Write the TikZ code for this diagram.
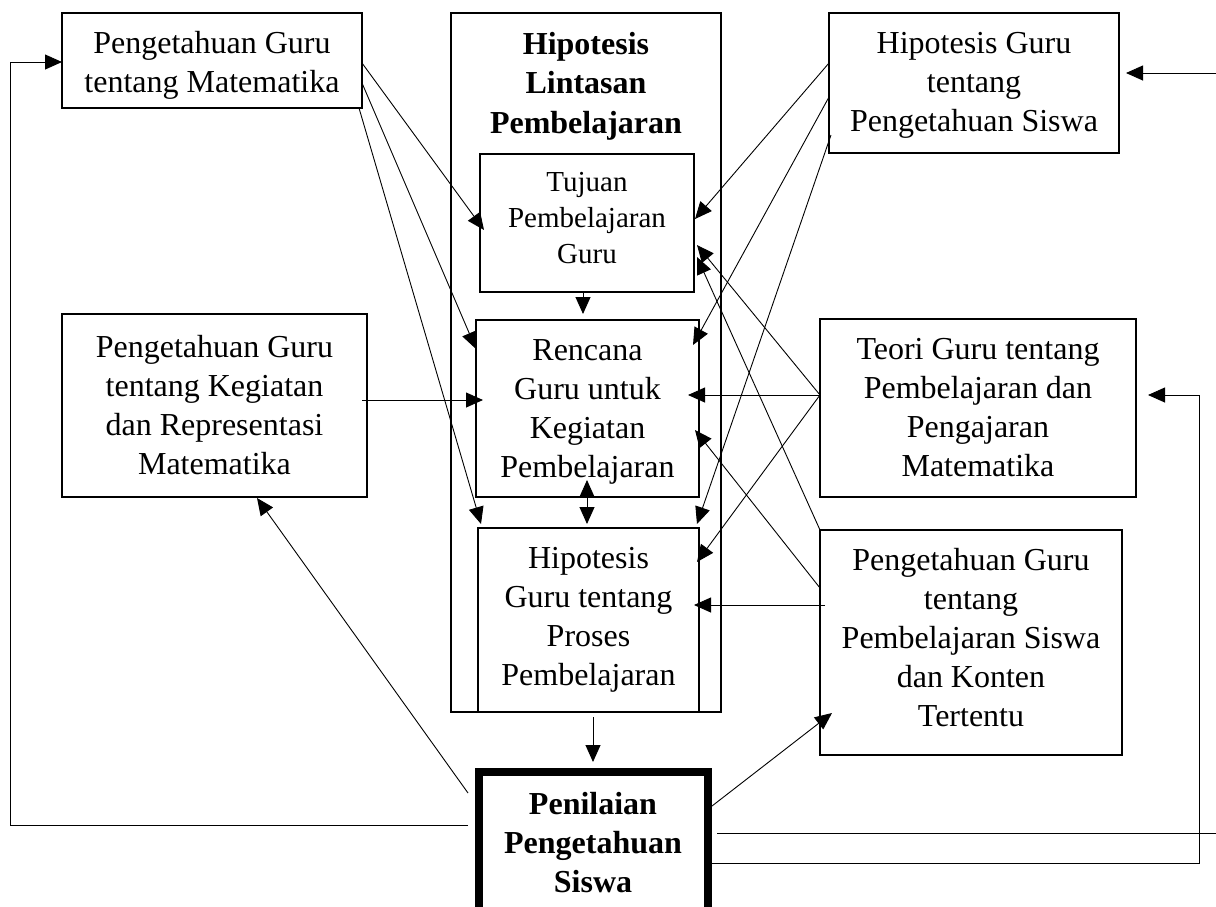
\documentclass[tikz,border=0pt]{standalone}
\usepackage{fontspec}
\setmainfont{Liberation Serif}
\usetikzlibrary{arrows.meta,calc}
% invisible struts that nudge the text block inside a frame
\newcommand{\tallstrut}[1]{\rule{0pt}{#1}}
\newcommand{\deepstrut}[1]{\rule[-#1]{0pt}{0pt}}
\begin{document}
\begin{tikzpicture}[x=1pt,y=-1pt,
  box/.style={draw,line width=1.1pt,inner sep=0pt,outer sep=0pt,align=center,
    font=\fontsize{32}{39}\selectfont},
  title/.style={inner sep=0pt,align=center,font=\fontsize{32}{39.5}\selectfont\bfseries},
  link/.style={line width=0.9pt,-{Triangle[length=17pt,width=15pt]}},
  both/.style={line width=0.9pt,{Triangle[length=17pt,width=15pt]}-{Triangle[length=17pt,width=15pt]}},
  plain/.style={line width=0.9pt}]
\useasboundingbox (0,0) rectangle (1216,906);
\clip (0,0) rectangle (1216,906);

% left column
\node[box,minimum width=300pt,minimum height=95pt] (pgm) at (212,60.5)
  {\tallstrut{32pt}Pengetahuan Guru\\tentang Matematika};
\node[box,minimum width=305pt,minimum height=183pt] (pgk) at (214.5,405.5)
  {Pengetahuan Guru\\tentang Kegiatan\\dan Representasi\\Matematika};

% hypothetical learning trajectory (middle column)
\node[box,minimum width=270pt,minimum height=699pt] (hlt) at (586,362.5) {};
\node[title] (hltT) at (586,86) {Hipotesis\\Lintasan\\Pembelajaran};
\node[box,minimum width=214pt,minimum height=138pt,
  font=\fontsize{29}{36}\selectfont] (tuj) at (587,223)
  {Tujuan\\Pembelajaran\\Guru\deepstrut{11pt}};
\node[box,minimum width=223pt,minimum height=177pt] (ren) at (587.5,408.5)
  {\tallstrut{28pt}Rencana\\Guru untuk\\Kegiatan\\Pembelajaran};
\node[box,minimum width=221pt,minimum height=184pt] (pro) at (588.5,620)
  {Hipotesis\\Guru tentang\\Proses\\Pembelajaran};

% right column
\node[box,minimum width=290pt,minimum height=140pt] (hgps) at (974,83)
  {\tallstrut{26pt}Hipotesis Guru\\tentang\\Pengetahuan Siswa};
\node[box,minimum width=316pt,minimum height=178pt] (teori) at (978,408)
  {Teori Guru tentang\\Pembelajaran dan\\Pengajaran\\Matematika};
\node[box,minimum width=302pt,minimum height=225pt] (pgps) at (971,642.5)
  {Pengetahuan Guru\\tentang\\Pembelajaran Siswa\\dan Konten\\Tertentu\deepstrut{10pt}};

% assessment (heavy frame)
\node[draw,line width=8pt,inner sep=0pt,outer sep=0pt,minimum width=229pt,
  minimum height=158pt] (pen) at (593.5,851) {};
\node[title,font=\fontsize{32}{39}\selectfont\bfseries] (penT) at (593,843)
  {Penilaian\\Pengetahuan\\Siswa};

% bend points of the feedback loops
\coordinate (loopA) at (10,825);
\coordinate (loopB) at (10,62);
\coordinate (loopC) at (1199,863);
\coordinate (loopD) at (1199,395);
\coordinate (loopE) at (1232,833);
\coordinate (loopF) at (1232,73);

% knowledge of mathematics
\draw[link] (pgm.east |- 0,63) -- ($(tuj.west |- 0,230)+(4,0)$);
\draw[link] (pgm.east |- 0,83) -- (ren.west |- 0,349);
\draw[link] ($(pgm.south east)+(-3,0)$) -- ($(pro.north west)+(3,-4)$);
% knowledge of activities
\draw[link] ($(pgk.east |- 0,400)+(-5,0)$) -- ($(ren.west |- 0,400)+(7,0)$);
% hypotheses of students' knowledge
\draw[link] (hgps.west |- 0,63) -- ($(tuj.east |- 0,219)+(1,0)$);
\draw[link] (hgps.west |- 0,97) -- ($(ren.east |- 0,345)+(-6,0)$);
\draw[link] ($(hgps.south west)+(2,-18)$) -- ($(pro.north east)+(-2,-4)$);
% theories of learning and teaching
\draw[link] (teori.west |- 0,395) -- ($(tuj.east |- 0,245)+(3,0)$);
\draw[link] (teori.west |- 0,395) -- ($(ren.east |- 0,395)+(-11,0)$);
\draw[link] (teori.west |- 0,395) -- ($(pro.east |- 0,562)+(-2,0)$);
% knowledge of student learning
\draw[link] (pgps.north west) -- ($(tuj.east |- 0,257)+(3,0)$);
\draw[link] (pgps.west |- 0,588) -- ($(ren.east |- 0,430)+(-4,0)$);
\draw[link] ($(pgps.west |- 0,605)+(5,0)$) -- ($(pro.east |- 0,605)+(-5,0)$);
% inside the trajectory
\draw[link] ($(tuj.south)+(-4,1)$) -- ($(ren.north)+(-4.5,-6)$);
\draw[both] ($(ren.south)+(-0.5,-17)$) -- ($(pro.north)+(-1.5,-4)$);
\draw[link] ($(hlt.south)+(7,5)$) -- ($(pen.north)+(-0.5,-10)$);
% from the assessment
\draw[link] ($(pen.north west)+(-11,21)$) -- ($(pgk.south)+(42.5,1)$);
\draw[link] ($(pen.west |- 0,825)+(-11,0)$) -- (loopA) -- (loopB) -- (pgm.west |- loopB);
\draw[link] ($(pen.east |- 0,806)+(4,0)$) -- ($(pgps.west |- 0,713)+(12,0)$);
\draw[link] ($(pen.east |- loopC)+(4,0)$) -- (loopC) -- (loopD) -- ($(teori.east |- loopD)+(12,0)$);
\draw[link] ($(pen.east |- loopE)+(9,0)$) -- (loopE) -- (loopF) -- ($(hgps.east |- loopF)+(7,0)$);
\end{tikzpicture}
\end{document}
